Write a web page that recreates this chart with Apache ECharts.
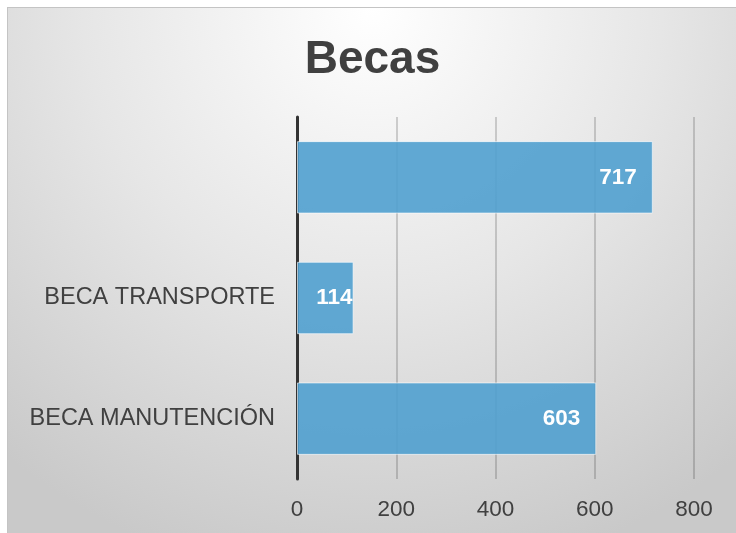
<!DOCTYPE html>
<html>
<head>
<meta charset="utf-8">
<script src="https://cdn.jsdelivr.net/npm/echarts@6/dist/echarts.min.js"></script>
<style>
html,body{margin:0;padding:0;background:#fff;}
#chart{position:absolute;left:7px;top:7px;width:729px;height:526px;border-left:1px solid #c4c4c4;border-top:1px solid #c4c4c4;}
</style>
</head>
<body>
<div id="chart"></div>
<script>
// categorias de abajo hacia arriba
var categories = ['BECA MANUTENCIÓN', 'BECA TRANSPORTE', ''];
var values = [603, 114, 717];
var xTicks = [0, 200, 400, 600, 800];

// barras cortas: la etiqueta va pegada al final
var barData = values.map(function (v) {
    return v < 200 ? {value: v, label: {distance: 1}} : v;
});

var myChart = echarts.init(document.getElementById('chart'));
var option = {
    backgroundColor: {
        type: 'radial', x: 0.5, y: 0, r: 1.1,
        colorStops: [
            {offset: 0, color: '#ffffff'},
            {offset: 0.5, color: '#e6e6e6'},
            {offset: 1, color: '#c9c9c9'}
        ]
    },
    title: {
        text: 'Becas',
        left: 'center',
        top: 24,
        textStyle: {fontSize: 46, fontWeight: 'bold', color: '#404040', fontFamily: 'Liberation Sans'}
    },
    grid: {left: 289, right: 43, top: 109, bottom: 55},
    xAxis: {
        type: 'value',
        min: xTicks[0],
        max: xTicks[xTicks.length - 1],
        interval: 200,
        axisLine: {show: false},
        axisTick: {show: false},
        axisLabel: {fontSize: 22.5, color: '#404040', margin: 19, fontFamily: 'Liberation Sans'},
        splitLine: {lineStyle: {color: 'rgba(0,0,0,0.22)', width: 1.5}}
    },
    yAxis: {
        type: 'category',
        data: categories,
        axisLine: {lineStyle: {color: '#333', width: 3}},
        axisTick: {show: false},
        axisLabel: {fontSize: 23.5, color: '#404040', margin: 22, fontFamily: 'Liberation Sans'}
    },
    series: [{
        type: 'bar',
        data: barData,
        barWidth: '60%',
        itemStyle: {color: 'rgba(80,160,207,0.9)', borderColor: 'rgba(255,255,255,0.6)', borderWidth: 1},
        label: {
            show: true,
            position: 'insideRight',
            distance: 16,
            color: '#fff',
            fontSize: 22.5,
            fontWeight: 'bold',
            fontFamily: 'Liberation Sans'
        }
    }]
};
myChart.setOption(option, true);
</script>
</body>
</html>
